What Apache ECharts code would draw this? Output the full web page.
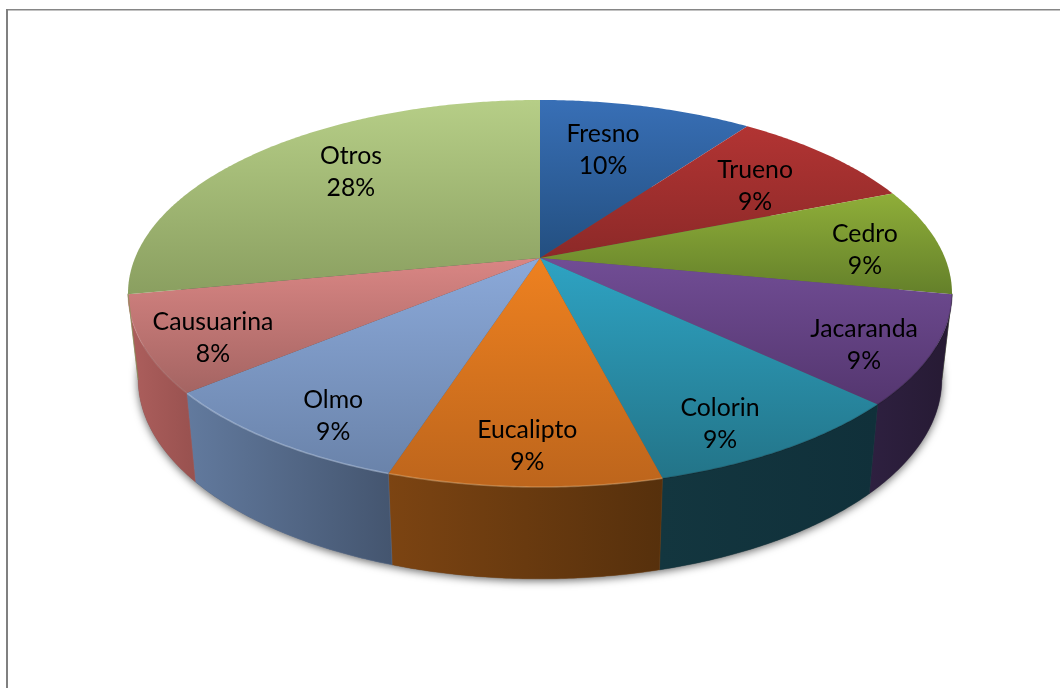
<!DOCTYPE html>
<html>
<head>
<meta charset="utf-8">
<style>html,body{margin:0;padding:0;background:#fff}#chart{width:1060px;height:688px}</style>
<script src="https://cdn.jsdelivr.net/npm/echarts@6/dist/echarts.min.js"></script>
</head>
<body>
<div id="chart"></div>
<script>
// Tree species share, shown as a perspective 3D pie
const categories = ['Fresno','Trueno','Cedro','Jacaranda','Colorin','Eucalipto','Olmo','Causuarina','Otros'];
const shares = [10,9,9,9,9,9,9,8,28];

// Top-face gradient stops (upper, lower) and wall gradient stops (left, right)
const topColors = [['#386fb6','#234f80'],['#b23433','#8c2928'],['#8fae39','#64802a'],['#714d95','#54366f'],
  ['#2ea3c3','#237488'],['#ee8120','#bd651c'],['#8ba9d9','#6a83aa'],['#d98684','#a46462'],['#b6ce87','#8a9f60']];
const wallColors = [['#4a5c22','#4a5c22'],['#5a1a1a','#5a1a1a'],['#4a5c22','#3d4d1d'],['#2e2040','#261a33'],
  ['#13363f','#10303a'],['#7c4412','#56300c'],['#627a9e','#44556f'],['#ad5f5d','#98514f'],['#7c9150','#7c9150']];
// Bevel highlight along the front rim of each slice
const rimColors = ['none','none','none','rgba(0,0,0,0.15)','rgba(0,0,0,0.12)','rgba(255,220,170,0.3)','rgba(220,235,255,0.35)','rgba(255,255,255,0.08)','none'];

// Label placement on the disc: angle shift from slice middle (degrees) and radius fraction
const labelShift = [-3.06,1.5,1.96,2.9,3.86,0,-2.9,-2.4,5.3];
const labelRadius = [0.6755,0.7098,0.811,0.851,0.8502,0.8454,0.8517,0.8457,0.7206];

// Perspective model of the top and bottom discs
const topDisc = {cx:540, cy:258, a:405, b:187, k:0.1835};
const bottomDisc = {cx:540, cy:342.5, a:395, b:193, k:0.1835};
// Angles where the cylinder wall becomes hidden behind the top face
const wallFrom = 100.6, wallTo = 259.4;

const total = shares.reduce((s,v)=>s+v,0);
let running = 0;
const sliceData = categories.map((name,i)=>{
  const start = running/total*360;
  running += shares[i];
  return {name, value:[start, running/total*360, shares[i]]};
});

function project(d, deg, r){
  const t = deg*Math.PI/180, rr = r===undefined?1:r;
  const u = rr*Math.sin(t), v = rr*Math.cos(t), w = 1+d.k*v;
  return [d.cx+d.a*u/w, d.cy-d.b*v/w];
}
function arc(d, from, to){
  const pts = [], n = Math.max(2, Math.ceil(Math.abs(to-from)/0.5));
  for(let i=0;i<=n;i++) pts.push(project(d, from+(to-from)*i/n));
  return pts;
}
function grad(c, horizontal){
  return new echarts.graphic.LinearGradient(0,0,horizontal?1:0,horizontal?0:1,[{offset:0,color:c[0]},{offset:1,color:c[1]}]);
}

function renderShadow(){
  // Soft cast shadow under the pie body
  return {type:'polygon', shape:{points:arc(bottomDisc,0,360)},
    style:{fill:'#555', shadowBlur:9, shadowColor:'rgba(0,0,0,0.6)', shadowOffsetY:2}};
}
function renderSlice(params, api){
  const i = params.dataIndex, from = api.value(0), to = api.value(1);
  const children = [];
  const wf = Math.max(from,wallFrom), wt = Math.min(to,wallTo);
  if(wt>wf){
    const pts = arc(topDisc,wf,wt).concat(arc(bottomDisc,wt,wf));
    children.push({type:'polygon', shape:{points:pts},
      style:{fill:grad(wallColors[i],true), stroke:wallColors[i][0], lineWidth:0.4}});
  }
  children.push({type:'polygon', shape:{points:[[topDisc.cx,topDisc.cy]].concat(arc(topDisc,from,to))},
    style:{fill:grad(topColors[i],false)}});
  if(wt>wf && rimColors[i]!=='none'){
    children.push({type:'polyline', shape:{points:arc(topDisc,wf,wt)},
      style:{fill:'none', stroke:rimColors[i], lineWidth:1.6}});
  }
  return {type:'group', children};
}
function renderLabel(params, api){
  const i = params.dataIndex;
  const mid = (api.value(0)+api.value(1))/2 + labelShift[i];
  const p = project(topDisc, mid, labelRadius[i]);
  return {type:'text', style:{x:p[0], y:p[1]+1, text:categories[i]+'\n'+api.value(2)+'%',
    align:'center', verticalAlign:'middle', fill:'#000', font:'24.8px Lato', lineHeight:32}};
}

const chart = echarts.init(document.getElementById('chart'), null, {renderer:'canvas'});
chart.setOption({
  animation:false,
  backgroundColor:'#fff',
  graphic:[
    {type:'rect', shape:{x:6,y:9,width:1054,height:1.5}, style:{fill:'#868686'}, silent:true},
    {type:'rect', shape:{x:6,y:9,width:2,height:679}, style:{fill:'#808080'}, silent:true}
  ],
  series:[
    {type:'custom', coordinateSystem:'none', silent:true, z:1, data:[0], renderItem:renderShadow},
    {type:'custom', coordinateSystem:'none', silent:true, z:2, data:sliceData, renderItem:renderSlice},
    {type:'custom', coordinateSystem:'none', silent:true, z:3, data:sliceData, renderItem:renderLabel}
  ]
});
</script>
</body>
</html>
